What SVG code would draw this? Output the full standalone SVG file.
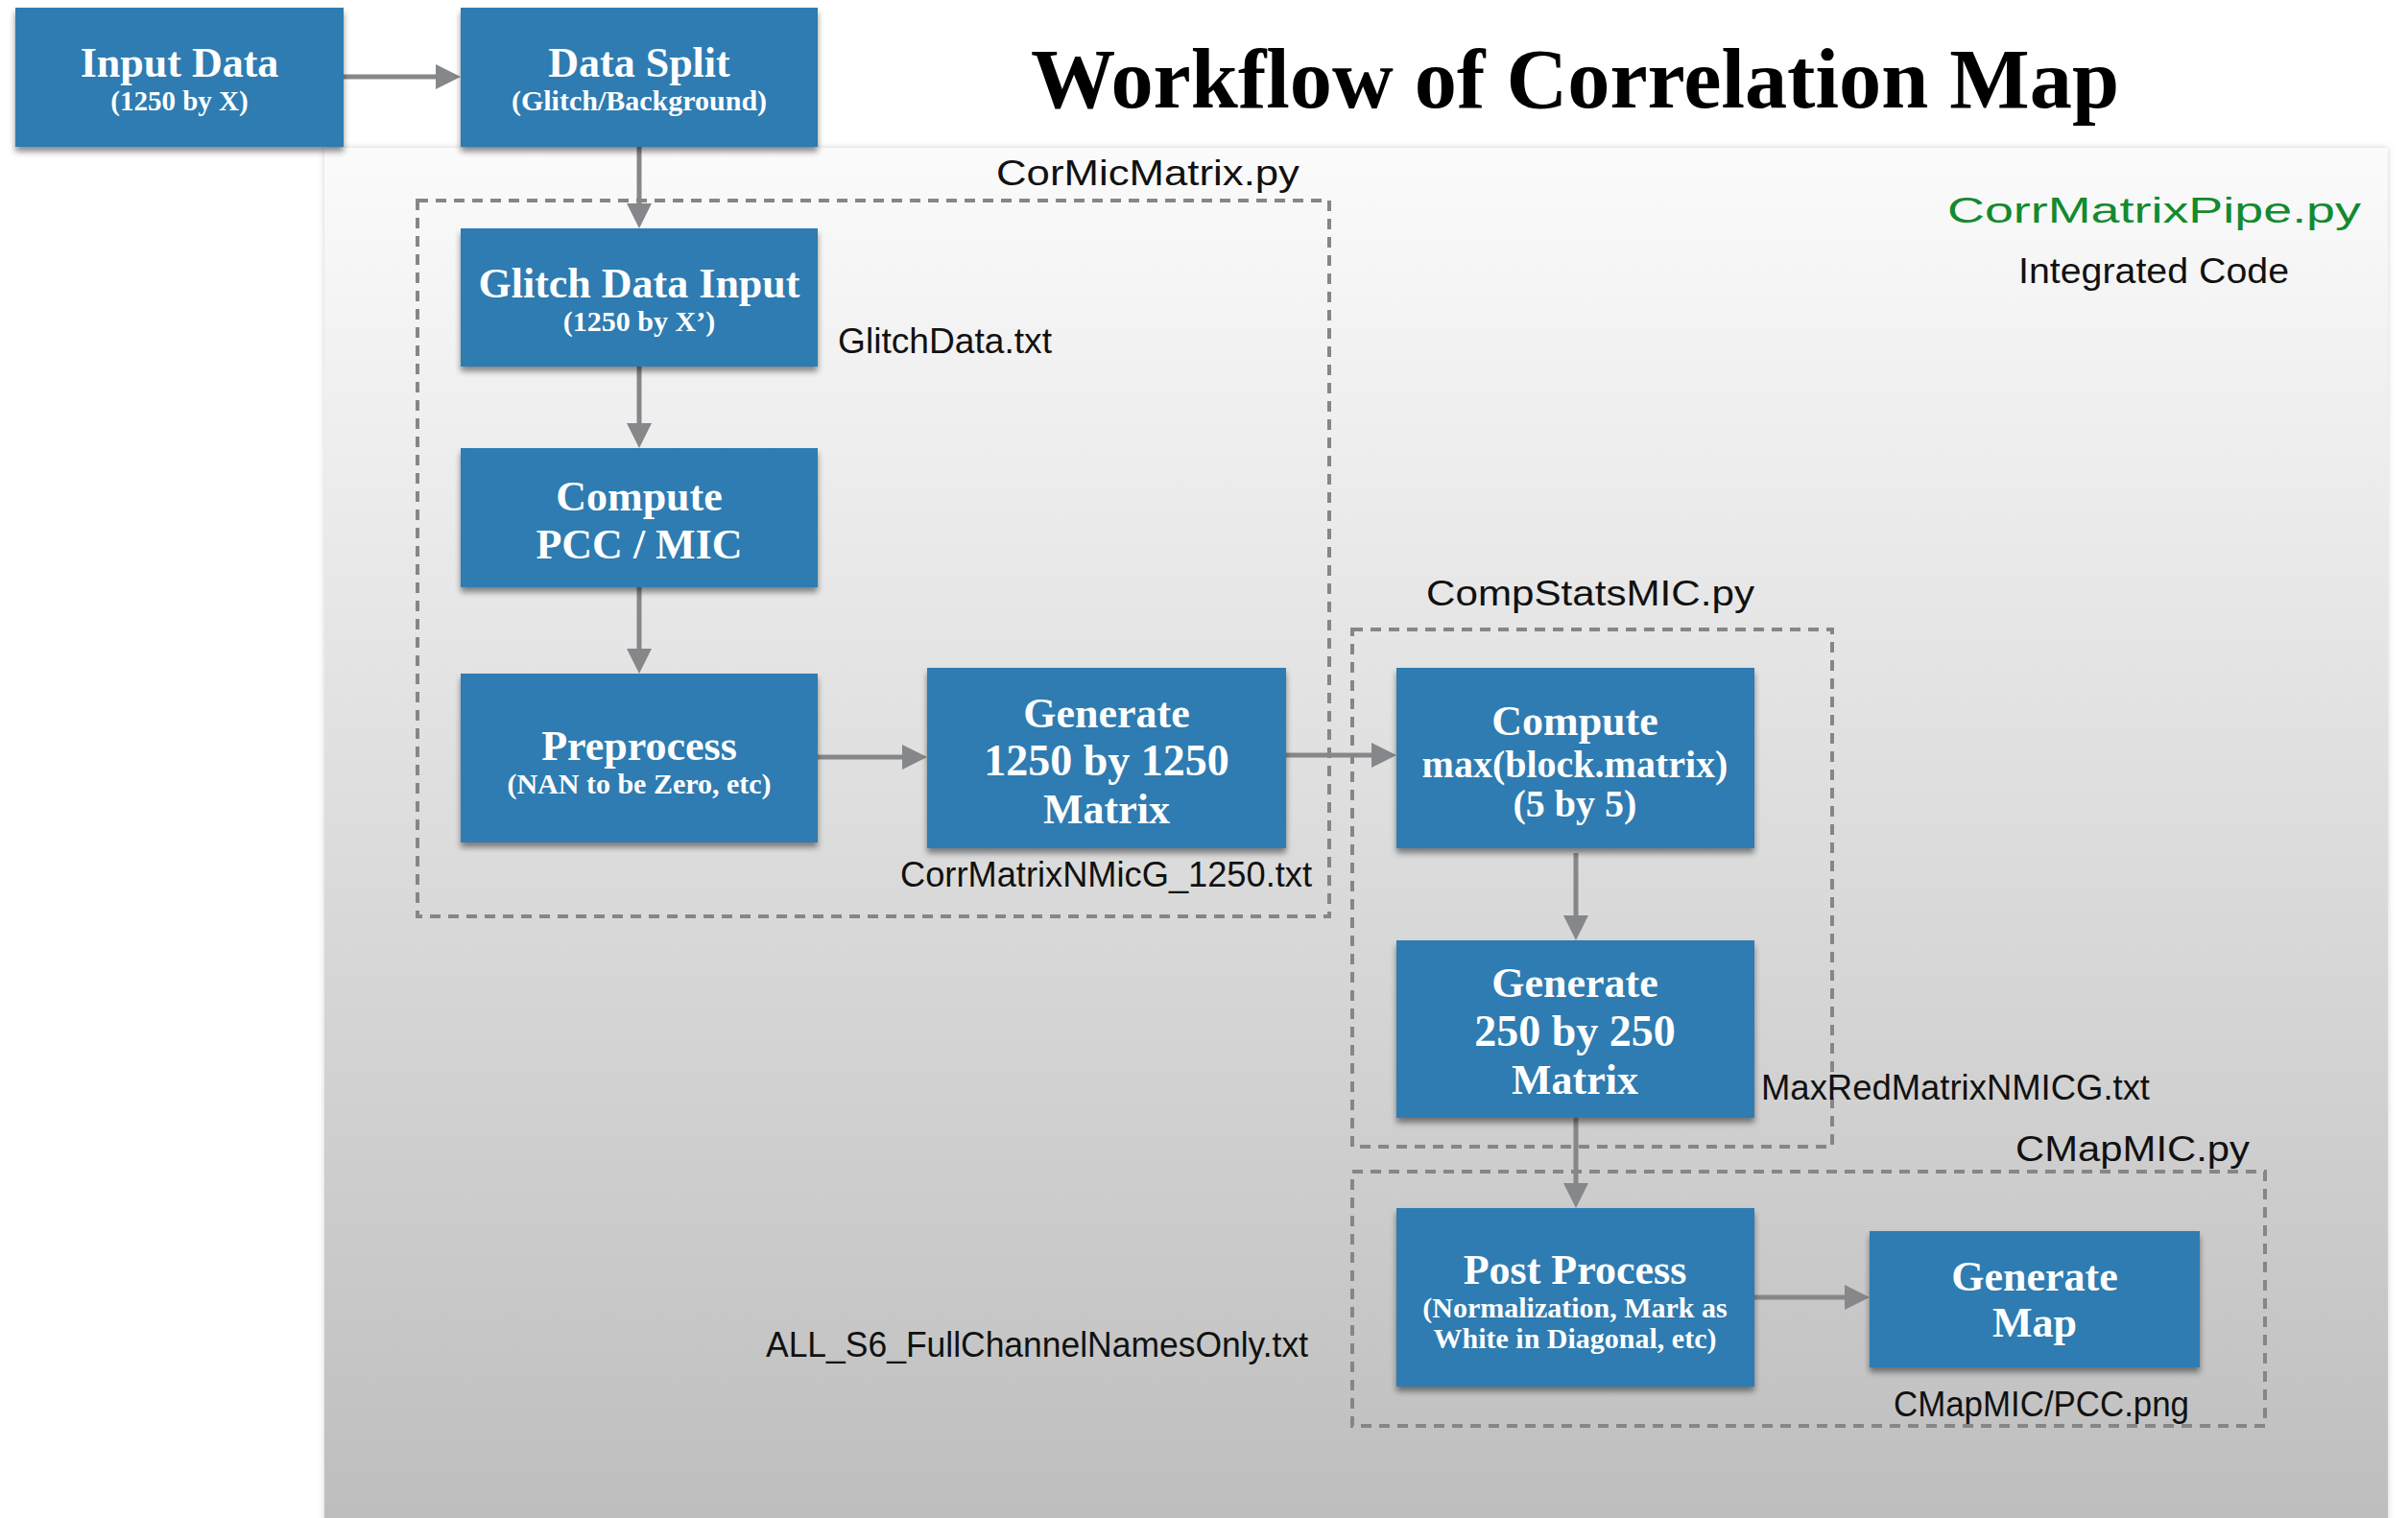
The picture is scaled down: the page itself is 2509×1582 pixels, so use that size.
<svg xmlns="http://www.w3.org/2000/svg" width="2509" height="1582" viewBox="0 0 2509 1582">
<defs>
<linearGradient id="panelGrad" x1="0" y1="0" x2="0" y2="1">
<stop offset="0" stop-color="#fbfbfb"/>
<stop offset="1" stop-color="#bdbdbd"/>
</linearGradient>
<filter id="boxShadow" x="-10%" y="-10%" width="120%" height="130%">
<feDropShadow dx="0" dy="5" stdDeviation="3" flood-color="#000" flood-opacity="0.45"/>
</filter>
<filter id="panelShadow" x="-2%" y="-2%" width="104%" height="104%">
<feDropShadow dx="0" dy="0" stdDeviation="3" flood-color="#000" flood-opacity="0.18"/>
</filter>
<marker id="arrow" viewBox="0 0 26 26" refX="4" refY="13" markerWidth="26" markerHeight="26" markerUnits="userSpaceOnUse" orient="auto">
<path d="M0,0 L26,13 L0,26 z" fill="#85878a"/>
</marker>
<style>
.box{fill:#2e7bb1;filter:url(#boxShadow);}
.t{font-family:"Liberation Serif","Times New Roman",serif;font-weight:bold;fill:#fff;text-anchor:middle;}
.big{font-size:44px;}
.mid{font-size:40px;}
.sm{font-size:30px;}
.lbl{font-family:"Liberation Sans",Arial,sans-serif;fill:#111;font-size:36px;}
.grp{fill:none;stroke:#868686;stroke-width:4;stroke-dasharray:11 8;}
.conn{stroke:#85878a;stroke-width:5;fill:none;marker-end:url(#arrow);}
</style>
</defs>
<rect width="2509" height="1582" fill="#ffffff"/>
<rect id="panel" x="338" y="154" width="2150" height="1450" fill="url(#panelGrad)" filter="url(#panelShadow)"/>
<text x="1074" y="112" font-family="'Liberation Serif','Times New Roman',serif" font-weight="bold" font-size="88" fill="#000" textLength="1134" lengthAdjust="spacingAndGlyphs">Workflow of Correlation Map</text>
<g id="groups">
<rect class="grp" x="435" y="209" width="950" height="746"/>
<rect class="grp" x="1409" y="656" width="500" height="539"/>
<rect class="grp" x="1409" y="1221" width="951" height="265"/>
</g>
<g id="labels">
<text class="lbl" x="1038" y="193" font-size="43" textLength="316" lengthAdjust="spacingAndGlyphs">CorMicMatrix.py</text>
<text class="lbl" x="2029" y="232" font-size="52" style="fill:#138a2e" textLength="431" lengthAdjust="spacingAndGlyphs">CorrMatrixPipe.py</text>
<text class="lbl" x="2103" y="295" font-size="38" textLength="282" lengthAdjust="spacingAndGlyphs">Integrated Code</text>
<text class="lbl" x="873" y="368" textLength="223" lengthAdjust="spacingAndGlyphs">GlitchData.txt</text>
<text class="lbl" x="938" y="924" textLength="429" lengthAdjust="spacingAndGlyphs">CorrMatrixNMicG_1250.txt</text>
<text class="lbl" x="1486" y="631" font-size="44" textLength="342" lengthAdjust="spacingAndGlyphs">CompStatsMIC.py</text>
<text class="lbl" x="1835" y="1146" textLength="405" lengthAdjust="spacingAndGlyphs">MaxRedMatrixNMICG.txt</text>
<text class="lbl" x="2100" y="1210" font-size="44" textLength="244" lengthAdjust="spacingAndGlyphs">CMapMIC.py</text>
<text class="lbl" x="798" y="1414" textLength="565" lengthAdjust="spacingAndGlyphs">ALL_S6_FullChannelNamesOnly.txt</text>
<text class="lbl" x="1973" y="1476" textLength="308" lengthAdjust="spacingAndGlyphs">CMapMIC/PCC.png</text>
</g>
<g id="connectors">
<line class="conn" x1="358" y1="80" x2="458" y2="80"/>
<line class="conn" x1="666" y1="153" x2="666" y2="216"/>
<line class="conn" x1="666" y1="382" x2="666" y2="445"/>
<line class="conn" x1="666" y1="612" x2="666" y2="680"/>
<line class="conn" x1="852" y1="789" x2="944" y2="789"/>
<line class="conn" x1="1340" y1="787" x2="1433" y2="787"/>
<line class="conn" x1="1642" y1="889" x2="1642" y2="958"/>
<line class="conn" x1="1642" y1="1165" x2="1642" y2="1237"/>
<line class="conn" x1="1828" y1="1352" x2="1926" y2="1352"/>
</g>
<g id="node-input">
<rect class="box" x="16" y="8" width="342" height="145"/>
<text class="t big" x="187" y="80">Input Data</text>
<text class="t" x="187" y="115" style="font-size:29px">(1250 by X)</text>
</g>
<g id="node-split">
<rect class="box" x="480" y="8" width="372" height="145"/>
<text class="t big" x="666" y="80">Data Split</text>
<text class="t sm" x="666" y="115">(Glitch/Background)</text>
</g>
<g id="node-glitch">
<rect class="box" x="480" y="238" width="372" height="144"/>
<text class="t big" x="666" y="310">Glitch Data Input</text>
<text class="t sm" x="666" y="345">(1250 by X’)</text>
</g>
<g id="node-pcc">
<rect class="box" x="480" y="467" width="372" height="145"/>
<text class="t big" x="666" y="532">Compute</text>
<text class="t big" x="666" y="582">PCC / MIC</text>
</g>
<g id="node-pre">
<rect class="box" x="480" y="702" width="372" height="176"/>
<text class="t big" x="666" y="792">Preprocess</text>
<text class="t sm" x="666" y="827">(NAN to be Zero, etc)</text>
</g>
<g id="node-gen1250">
<rect class="box" x="966" y="696" width="374" height="188"/>
<text class="t big" x="1153" y="758">Generate</text>
<text class="t" x="1153" y="808" style="font-size:46px">1250 by 1250</text>
<text class="t big" x="1153" y="858">Matrix</text>
</g>
<g id="node-cmax">
<rect class="box" x="1455" y="696" width="373" height="188"/>
<text class="t big" x="1641" y="766">Compute</text>
<text class="t mid" x="1641" y="810">max(block.matrix)</text>
<text class="t mid" x="1641" y="851">(5 by 5)</text>
</g>
<g id="node-gen250">
<rect class="box" x="1455" y="980" width="373" height="185"/>
<text class="t big" x="1641" y="1039">Generate</text>
<text class="t" x="1641" y="1090" style="font-size:46px">250 by 250</text>
<text class="t big" x="1641" y="1140">Matrix</text>
</g>
<g id="node-post">
<rect class="box" x="1455" y="1259" width="373" height="186"/>
<text class="t big" x="1641" y="1338">Post Process</text>
<text class="t sm" x="1641" y="1373">(Normalization, Mark as</text>
<text class="t sm" x="1641" y="1405">White in Diagonal, etc)</text>
</g>
<g id="node-map">
<rect class="box" x="1948" y="1283" width="344" height="142"/>
<text class="t big" x="2120" y="1345">Generate</text>
<text class="t big" x="2120" y="1393">Map</text>
</g>
</svg>
